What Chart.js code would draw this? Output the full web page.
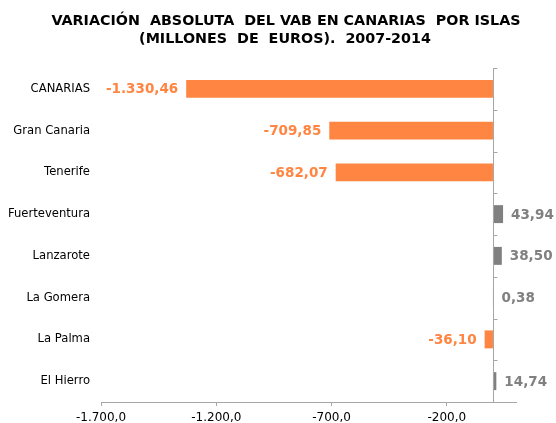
<!DOCTYPE html>
<html>
<head>
<meta charset="utf-8">
<script src="https://cdn.jsdelivr.net/npm/chart.js@4"></script>
<style>html,body{margin:0;padding:0;background:#fff;}canvas{display:block;}</style>
</head>
<body>
<canvas id="c" width="556" height="423"></canvas>
<script>
const titleLines = ["VARIACIÓN  ABSOLUTA  DEL VAB EN CANARIAS  POR ISLAS", "(MILLONES  DE  EUROS).  2007-2014"];
const categories = ["CANARIAS", "Gran Canaria", "Tenerife", "Fuerteventura", "Lanzarote", "La Gomera", "La Palma", "El Hierro"];
const values = [-1330.46, -709.85, -682.07, 43.94, 38.50, 0.38, -36.10, 14.74];
const xTicks = [-1700, -1200, -700, -200];
const xMin = -1700, xMax = 100;

const ORANGE = "rgb(255,133,66)";
const GRAY = "rgb(128,128,128)";

function fmt(v, d) {
  const neg = v < 0;
  let s = Math.abs(v).toFixed(d);
  let [ip, dp] = s.split(".");
  ip = ip.replace(/\B(?=(\d{3})+(?!\d))/g, ".");
  return (neg ? "-" : "") + ip + (dp !== undefined ? "," + dp : "");
}

const PAD_LEFT = 0, CHART_LEFT = 101, CHART_TOP = 68, CHART_BOTTOM = 402;

const extras = {
  id: "extras",
  afterDatasetsDraw(chart) {
    const ctx = chart.ctx;
    const xs = chart.scales.x;
    const ca = chart.chartArea;
    const x0 = Math.round(xs.getPixelForValue(0)) + 0.5;
    ctx.save();
    ctx.strokeStyle = "#a6a6a6";
    ctx.lineWidth = 1;
    ctx.beginPath();
    ctx.moveTo(x0, ca.top);
    ctx.lineTo(x0, ca.bottom + 1);
    const n = categories.length;
    const step = (ca.bottom - ca.top) / n;
    for (let k = 0; k <= n; k++) {
      const yy = Math.round(ca.top + k * step) + 0.5;
      ctx.moveTo(x0, yy);
      ctx.lineTo(x0 + 4, yy);
    }
    ctx.stroke();
    const meta = chart.getDatasetMeta(0);
    ctx.font = "bold 13.5px 'DejaVu Sans'";
    ctx.textBaseline = "middle";
    meta.data.forEach((el, i) => {
      const v = values[i];
      const txt = fmt(v, 2);
      if (v < 0) {
        ctx.fillStyle = ORANGE;
        ctx.textAlign = "right";
        ctx.fillText(txt, el.x - 8, el.y + 1);
      } else {
        ctx.fillStyle = GRAY;
        ctx.textAlign = "left";
        ctx.fillText(txt, Math.max(el.x, x0) + 8, el.y + 1);
      }
    });
    ctx.fillStyle = "#000";
    ctx.textAlign = "center";
    ctx.font = "bold 14.3px 'DejaVu Sans'";
    ctx.fillText(titleLines[0], 286, 21);
    ctx.fillText(titleLines[1], 285, 39);
    ctx.restore();
  }
};

new Chart(document.getElementById("c"), {
  type: "bar",
  data: {
    labels: categories,
    datasets: [{
      data: values,
      backgroundColor: values.map(v => v < 0 ? ORANGE : GRAY),
      borderWidth: 0,
      barPercentage: 0.43,
      categoryPercentage: 1.0
    }]
  },
  options: {
    indexAxis: "y",
    responsive: false,
    animation: false,
    layout: { padding: { top: CHART_TOP, left: PAD_LEFT, right: 40, bottom: 0 } },
    plugins: { legend: { display: false }, title: { display: false }, tooltip: { enabled: false } },
    scales: {
      x: {
        min: xMin, max: xMax,
        afterBuildTicks(axis) { axis.ticks = xTicks.map(v => ({ value: v })); },
        afterFit(axis) { axis.height = 423 - CHART_BOTTOM; },
        ticks: {
          color: "#000",
          font: { family: "'DejaVu Sans'", size: 12 },
          padding: 5,
          maxRotation: 0,
          autoSkip: false,
          callback: (v) => fmt(v, 1)
        },
        grid: { drawOnChartArea: false, drawTicks: true, tickLength: 4, color: "#a6a6a6" },
        border: { display: true, color: "#a6a6a6" }
      },
      y: {
        afterFit(axis) { axis.width = CHART_LEFT - PAD_LEFT; },
        ticks: {
          color: "#000",
          font: { family: "'DejaVu Sans'", size: 11.6 },
          padding: 11
        },
        grid: { display: false, drawTicks: false },
        border: { display: false }
      }
    }
  },
  plugins: [extras]
});
</script>
</body>
</html>
